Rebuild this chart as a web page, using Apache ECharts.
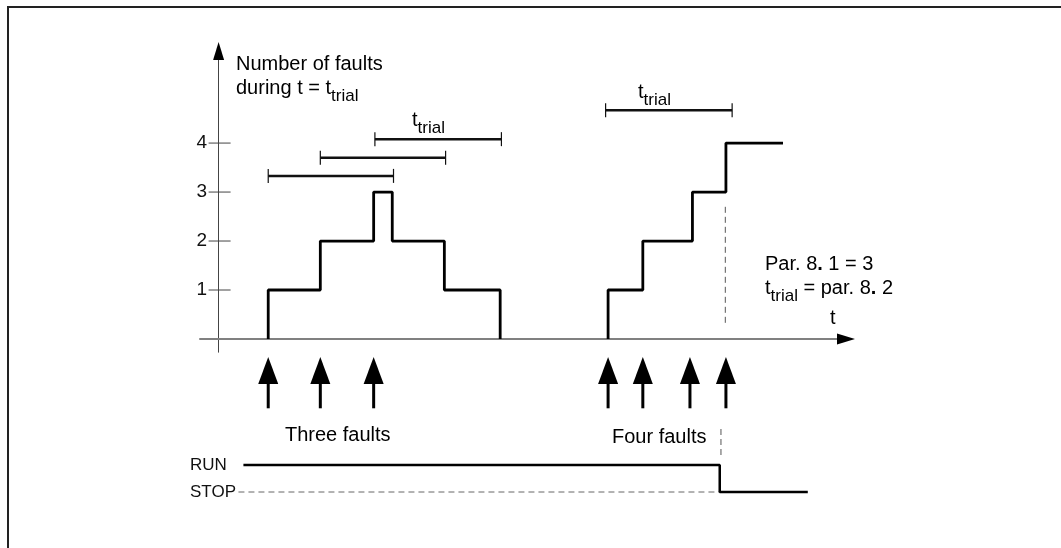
<!DOCTYPE html>
<html>
<head>
<meta charset="utf-8">
<script src="https://cdn.jsdelivr.net/npm/echarts@6/dist/echarts.min.js"></script>
<style>
  html, body { margin: 0; padding: 0; background: #fff; }
  #chart { width: 1061px; height: 548px; }
</style>
</head>
<body>
<div id="chart"></div>
<script>
// --- data (time in arbitrary units, t_trial ~ 10) ---
const yTicks = [1, 2, 3, 4]

// first burst: three faults
const faultTimesA = [4, 8.2, 12.5]
const stepTimesA = [4, 4, 8.2, 12.5, 14, 18.2, 22.7]
const stepCountsA = [0, 1, 2, 3, 2, 1, 0]

// second burst: four faults
const faultTimesB = [31.4, 34.2, 38.0, 40.9]
const stepTimesB = [31.4, 31.4, 34.2, 38.2, 40.9, 45.5]
const stepCountsB = [0, 1, 2, 3, 4, 4]

// t_trial windows
const trialStart = [4, 8.2, 12.6, 31.2]
const trialEnd = [14.1, 18.3, 22.8, 41.4]
const trialLevel = [3.33, 3.7, 4.08, 4.67]

// dashed marker where the fourth fault trips
const tripGuideTimes = [40.85, 40.85]
const tripGuideCounts = [0.33, 2.73]
const tripGuideLowTimes = [40.5, 40.5]
const tripGuideLowStates = [1.37, 2.37]

// RUN (1) / STOP (0) state
const runTimes = [2.0, 40.4, 40.4, 47.5]
const runStates = [1, 1, 0, 0]
const stopGuideTimes = [1.6, 40.4]
const stopGuideStates = [0, 0]

// axis ranges
const X_MIN = -1.5
const X_MAX = 50.58
const Y_MIN = -0.27
const Y_MAX = 5.88

const FONT = '"Liberation Sans", Arial, Helvetica, sans-serif'
const zip = (a, b) => a.map((v, i) => [v, b[i]])

const chart = echarts.init(document.getElementById('chart'))

const richStyles = {
  m: { fontSize: 20, fontFamily: FONT, color: '#111', lineHeight: 24, verticalAlign: 'top' },
  s: { fontSize: 17, fontFamily: FONT, color: '#111', lineHeight: 17, verticalAlign: 'top', padding: [10, 0, 0, 0] },
  b: { fontSize: 20, fontFamily: FONT, color: '#111', lineHeight: 24, verticalAlign: 'top', fontWeight: 'bold' }
}

const label = (x, y, text) => ({
  type: 'text',
  x: x,
  y: y,
  style: {
    text: text,
    rich: richStyles,
    align: 'left',
    verticalAlign: 'top'
  },
  z: 10
})

const small = (x, y, text) => ({
  type: 'text',
  x: x,
  y: y,
  style: {
    text: text,
    font: '17px ' + FONT,
    fill: '#111',
    align: 'left',
    verticalAlign: 'middle'
  },
  z: 10
})

const renderTick = (params, api) => {
  const p = api.coord([api.value(0), api.value(1)])
  return {
    type: 'line',
    shape: { x1: p[0] - 10, y1: p[1], x2: p[0] + 12, y2: p[1] },
    style: { stroke: '#444', lineWidth: 1 }
  }
}

// black arrow heads at the end of both axes (dir 0 = right, 1 = up)
const renderAxisHead = (params, api) => {
  const p = api.coord([api.value(0), api.value(1)])
  const pts = api.value(2) === 0
    ? [[p[0] + 9, p[1]], [p[0] - 9, p[1] - 5.5], [p[0] - 9, p[1] + 5.5]]
    : [[p[0], p[1] - 9], [p[0] - 5.5, p[1] + 9], [p[0] + 5.5, p[1] + 9]]
  return { type: 'polygon', shape: { points: pts }, style: { fill: '#000' } }
}

const renderTrial = (params, api) => {
  const a = api.coord([api.value(0), api.value(2)])
  const b = api.coord([api.value(1), api.value(2)])
  return {
    type: 'group',
    children: [
      { type: 'line', shape: { x1: a[0], y1: a[1], x2: b[0], y2: b[1] }, style: { stroke: '#111', lineWidth: 2.5 } },
      { type: 'line', shape: { x1: a[0], y1: a[1] - 7, x2: a[0], y2: a[1] + 7 }, style: { stroke: '#111', lineWidth: 1.2 } },
      { type: 'line', shape: { x1: b[0], y1: b[1] - 7, x2: b[0], y2: b[1] + 7 }, style: { stroke: '#111', lineWidth: 1.2 } }
    ]
  }
}

// fault arrows, drawn in the lower grid (tip at state 5, foot at 3.1)
const renderArrow = (params, api) => {
  const tip = api.coord([api.value(0), 5.0])
  const foot = api.coord([api.value(0), 3.1])
  const x = tip[0]
  return {
    type: 'group',
    children: [
      { type: 'polygon', shape: { points: [[x, tip[1]], [x - 10, tip[1] + 27], [x + 10, tip[1] + 27]] }, style: { fill: '#000' } },
      { type: 'rect', shape: { x: x - 1.5, y: tip[1] + 25, width: 3, height: foot[1] - tip[1] - 25 }, style: { fill: '#000' } }
    ]
  }
}

const stepLine = (name, data) => ({
  name: name,
  type: 'line',
  xAxisIndex: 0,
  yAxisIndex: 0,
  step: 'end',
  data: data,
  symbol: 'none',
  lineStyle: { color: '#000', width: 2.8 },
  silent: true,
  z: 5
})

const option = {
  animation: false,
  backgroundColor: '#fff',
  grid: [
    { left: 200, top: 51, width: 646, height: 301.2 },
    { left: 200, top: 343.5, width: 646, height: 202.5 }
  ],
  xAxis: [
    {
      gridIndex: 0,
      type: 'value',
      min: X_MIN,
      max: X_MAX,
      axisLine: {
        show: true,
        onZero: true,
        lineStyle: { color: '#808080', width: 2 }
      },
      axisTick: { show: false },
      axisLabel: { show: false },
      splitLine: { show: false }
    },
    {
      gridIndex: 1,
      type: 'value',
      min: X_MIN,
      max: X_MAX,
      show: false
    }
  ],
  yAxis: [
    {
      gridIndex: 0,
      type: 'value',
      min: Y_MIN,
      max: Y_MAX,
      axisLine: {
        show: true,
        onZero: true,
        lineStyle: { color: '#444', width: 1 }
      },
      axisTick: { show: false },
      axisLabel: {
        show: true,
        customValues: yTicks,
        margin: -7,
        fontSize: 19,
        fontFamily: FONT,
        color: '#111'
      },
      splitLine: { show: false }
    },
    {
      gridIndex: 1,
      type: 'value',
      min: -2,
      max: 5.5,
      show: false
    }
  ],
  graphic: [
    {
      type: 'polyline',
      shape: { points: [[8, 548], [8, 7], [1061, 7]] },
      style: { stroke: '#222', lineWidth: 2, fill: null }
    },
    label(236, 54, '{m|Number of faults}'),
    label(236, 78, '{m|during t = t}{s|trial}'),
    label(412, 110, '{m|t}{s|trial}'),
    label(638, 82, '{m|t}{s|trial}'),
    label(765, 254, '{m|Par. 8}{b|.}{m| 1 = 3}'),
    label(765, 278, '{m|t}{s|trial}{m| = par. 8}{b|.}{m| 2}'),
    label(830, 308, '{m|t}'),
    label(285, 425, '{m|Three faults}'),
    label(612, 427, '{m|Four faults}'),
    small(190, 465, 'RUN'),
    small(190, 492, 'STOP')
  ],
  series: [
    {
      name: 'ticks',
      type: 'custom',
      xAxisIndex: 0,
      yAxisIndex: 0,
      renderItem: renderTick,
      data: yTicks.map(v => [0, v]),
      silent: true
    },
    {
      name: 'axis heads',
      type: 'custom',
      xAxisIndex: 0,
      yAxisIndex: 0,
      renderItem: renderAxisHead,
      clip: false,
      encode: { x: 0, y: 1 },
      data: [[X_MAX, 0, 0], [0, Y_MAX, 1]],
      silent: true,
      z: 6
    },
    stepLine('faults A', zip(stepTimesA, stepCountsA)),
    stepLine('faults B', zip(stepTimesB, stepCountsB)),
    {
      name: 't_trial',
      type: 'custom',
      xAxisIndex: 0,
      yAxisIndex: 0,
      renderItem: renderTrial,
      encode: { x: [0, 1], y: 2 },
      data: trialStart.map((s, i) => [s, trialEnd[i], trialLevel[i]]),
      silent: true
    },
    {
      name: 'trip guide',
      type: 'line',
      xAxisIndex: 0,
      yAxisIndex: 0,
      data: zip(tripGuideTimes, tripGuideCounts),
      symbol: 'none',
      lineStyle: { color: '#555', width: 1, type: [6, 4] },
      silent: true
    },
    {
      name: 'fault arrows',
      type: 'custom',
      xAxisIndex: 1,
      yAxisIndex: 1,
      renderItem: renderArrow,
      encode: { x: 0 },
      data: faultTimesA.concat(faultTimesB).map(t => [t]),
      silent: true
    },
    {
      name: 'trip guide low',
      type: 'line',
      xAxisIndex: 1,
      yAxisIndex: 1,
      data: zip(tripGuideLowTimes, tripGuideLowStates),
      symbol: 'none',
      lineStyle: { color: '#555', width: 1, type: [6, 4] },
      silent: true
    },
    {
      name: 'STOP level',
      type: 'line',
      xAxisIndex: 1,
      yAxisIndex: 1,
      data: zip(stopGuideTimes, stopGuideStates),
      symbol: 'none',
      lineStyle: { color: '#666', width: 1, type: [6, 4] },
      silent: true
    },
    {
      name: 'RUN/STOP',
      type: 'line',
      xAxisIndex: 1,
      yAxisIndex: 1,
      data: zip(runTimes, runStates),
      symbol: 'none',
      lineStyle: { color: '#000', width: 2.5 },
      silent: true,
      z: 5
    }
  ]
}

chart.setOption(option)
window.addEventListener('resize', () => chart.resize())
</script>
</body>
</html>
